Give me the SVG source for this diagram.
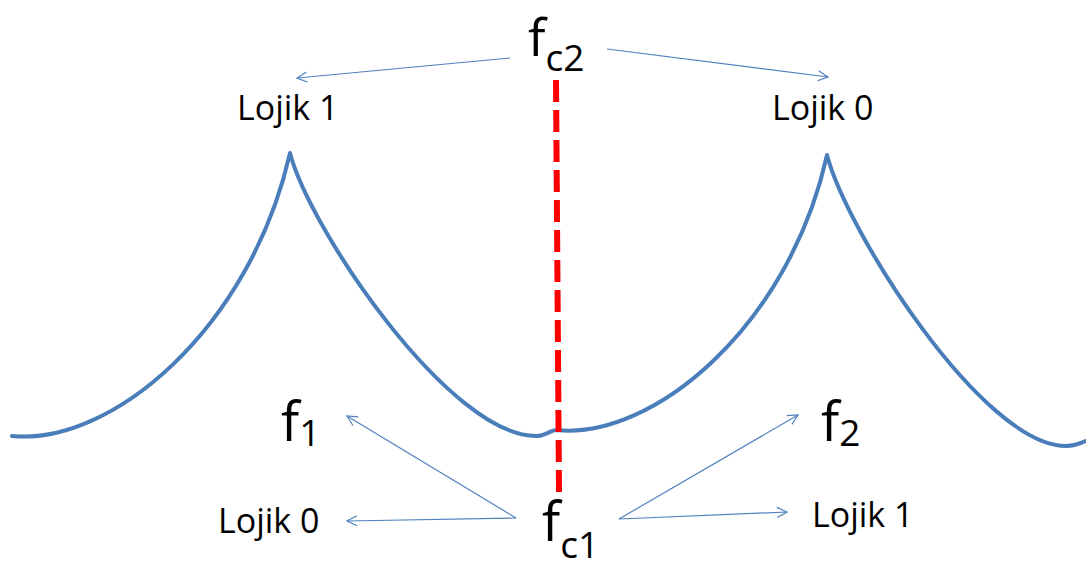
<svg xmlns="http://www.w3.org/2000/svg" width="1086" height="577" viewBox="0 0 1086 577">
<style>
.lbl{font-family:"Open Sans","Liberation Sans",sans-serif;font-size:34px;fill:#000}
.big{font-family:"Open Sans","Liberation Sans",sans-serif;font-size:54px;fill:#000}
.sub{font-size:37px}
.curve{fill:none;stroke:#4a7ebb;stroke-width:4;stroke-linecap:round;stroke-linejoin:round}
.cut{fill:none;stroke:#ff0000;stroke-width:6;stroke-dasharray:22 8}
.conn{fill:none;stroke:#4f81bd;stroke-width:1.2}
</style>
<defs>
<marker id="arr" markerUnits="userSpaceOnUse" markerWidth="16" markerHeight="16" refX="12" refY="8" orient="auto">
<path d="M2,3 L12,8 L2,13" fill="none" stroke="#4f81bd" stroke-width="1.2"/>
</marker>
</defs>
<g id="response-curve">
<path class="curve" d="M12,436 C110,446 250,330 290,153 C310,230 450,436 536,436 C546,436 550,430 557,430 C652,440 789,327 827,155 C847,232 983,446 1066,446 C1076,446 1080,443 1086,441"/>
</g>
<g id="cutoff-line">
<line class="cut" x1="556" y1="80" x2="559" y2="492"/>
</g>
<g id="connectors">
<line class="conn" x1="510" y1="58" x2="297" y2="78" marker-end="url(#arr)"/>
<line class="conn" x1="607" y1="49" x2="828" y2="77" marker-end="url(#arr)"/>
<line class="conn" x1="516" y1="518" x2="347" y2="416" marker-end="url(#arr)"/>
<line class="conn" x1="516" y1="518" x2="347" y2="521" marker-end="url(#arr)"/>
<line class="conn" x1="619" y1="519" x2="798" y2="415" marker-end="url(#arr)"/>
<line class="conn" x1="619" y1="519" x2="787" y2="512" marker-end="url(#arr)"/>
</g>
<g id="fc2"><text class="big" x="528" y="56" style="font-size:52px">f<tspan class="sub" dy="15">c2</tspan></text></g>
<g id="fc1"><text class="big" x="542" y="541">f<tspan class="sub" dy="17">c1</tspan></text></g>
<g id="f1"><text class="big" x="281" y="441">f<tspan class="sub" dy="5">1</tspan></text></g>
<g id="f2"><text class="big" x="821" y="441">f<tspan class="sub" dy="5">2</tspan></text></g>
<g id="lojik1-top"><text class="lbl" x="237" y="120">Lojik 1</text></g>
<g id="lojik0-top"><text class="lbl" x="772" y="120">Lojik 0</text></g>
<g id="lojik0-bottom"><text class="lbl" x="218" y="533">Lojik 0</text></g>
<g id="lojik1-bottom"><text class="lbl" x="812" y="527">Lojik 1</text></g>
</svg>
